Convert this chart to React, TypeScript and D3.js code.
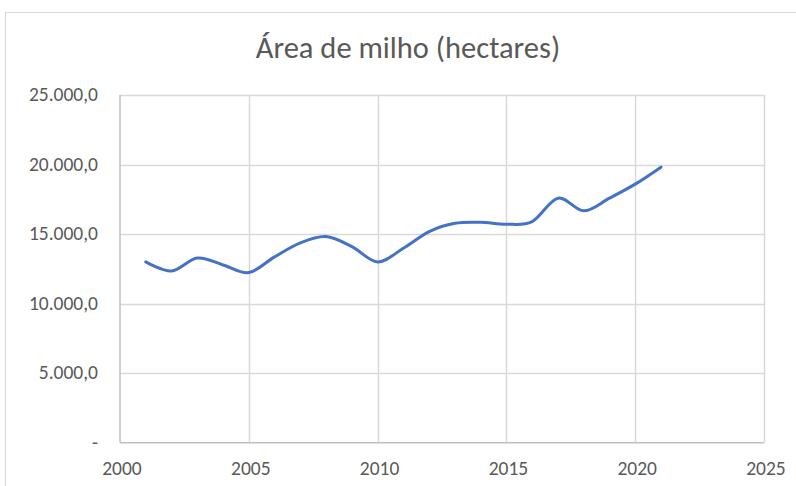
import React, { useEffect, useRef } from "react";
import * as d3 from "d3";

// data
const years = [2001, 2002, 2003, 2004, 2005, 2006, 2007, 2008, 2009, 2010, 2011, 2012, 2013, 2014, 2015, 2016, 2017, 2018, 2019, 2020, 2021];
const area = [13000, 12350, 13280, 12780, 12230, 13360, 14370, 14820, 14100, 13000, 13980, 15180, 15780, 15850, 15710, 15900, 17580, 16670, 17580, 18590, 19810];
const xTicks = [2000, 2005, 2010, 2015, 2020, 2025];
const yTicks = [0, 5000, 10000, 15000, 20000, 25000];
const title = "Área de milho (hectares)";

const fmt = (v: number) =>
  v === 0
    ? "-"
    : d3.format(",.1f")(v).replace(/,/g, "#").replace(".", ",").replace(/#/g, ".");

const App = () => {
  const svgRef = useRef<SVGSVGElement>(null);

  useEffect(() => {
    const svg = d3.select(svgRef.current);
    svg.selectAll("*").remove();

    const w = 796;
    const h = 486;
    const font = "Carlito, Calibri, 'Liberation Sans', sans-serif";

    svg.attr("width", w).attr("height", h).style("background", "#fff");

    // chart border
    svg
      .append("rect")
      .attr("x", 5.5)
      .attr("y", 12.5)
      .attr("width", 820)
      .attr("height", 500)
      .attr("fill", "none")
      .attr("stroke", "#d9d9d9");

    const x = d3.scaleLinear().domain([2000, 2025]).range([120, 764]);
    const y = d3.scaleLinear().domain([0, 25000]).range([442.7, 95]);

    // gridlines
    svg
      .append("g")
      .selectAll("line")
      .data(yTicks.filter((t) => t > 0))
      .join("line")
      .attr("x1", x(2000))
      .attr("x2", x(2025))
      .attr("y1", (d) => Math.round(y(d)) + 0.5)
      .attr("y2", (d) => Math.round(y(d)) + 0.5)
      .attr("stroke", "#d9d9d9")
      .attr("stroke-width", 1.5);

    svg
      .append("g")
      .selectAll("line")
      .data(xTicks.filter((t) => t > 2000))
      .join("line")
      .attr("x1", (d) => Math.round(x(d)) + 0.5)
      .attr("x2", (d) => Math.round(x(d)) + 0.5)
      .attr("y1", y(25000))
      .attr("y2", y(0))
      .attr("stroke", "#d9d9d9")
      .attr("stroke-width", 1.5);

    // axis lines
    svg
      .append("line")
      .attr("x1", x(2000))
      .attr("x2", x(2025))
      .attr("y1", y(0))
      .attr("y2", y(0))
      .attr("stroke", "#bfbfbf")
      .attr("stroke-width", 1.5);
    svg
      .append("line")
      .attr("x1", x(2000))
      .attr("x2", x(2000))
      .attr("y1", y(0))
      .attr("y2", y(25000))
      .attr("stroke", "#bfbfbf")
      .attr("stroke-width", 1.5);

    // tick labels
    svg
      .append("g")
      .selectAll("text")
      .data(yTicks)
      .join("text")
      .attr("x", 98)
      .attr("y", (d) => y(d) + 6)
      .attr("text-anchor", "end")
      .attr("font-family", font)
      .attr("font-size", 19.5)
      .attr("fill", "#595959")
      .text((d) => fmt(d));

    svg
      .append("g")
      .selectAll("text")
      .data(xTicks)
      .join("text")
      .attr("x", (d) => x(d) + 2)
      .attr("y", 475)
      .attr("text-anchor", "middle")
      .attr("font-family", font)
      .attr("font-size", 19.5)
      .attr("fill", "#595959")
      .text((d) => d);

    // title
    svg
      .append("text")
      .attr("x", 408)
      .attr("y", 58)
      .attr("text-anchor", "middle")
      .attr("font-family", font)
      .attr("font-size", 30.5)
      .attr("fill", "#595959")
      .text(title);

    // smoothed line
    const line = d3
      .line<number>()
      .x((_, i) => x(years[i]))
      .y((d) => y(d))
      .curve(d3.curveCatmullRom.alpha(0));

    svg
      .append("path")
      .datum(area)
      .attr("d", line)
      .attr("fill", "none")
      .attr("stroke", "#4472c4")
      .attr("stroke-width", 3)
      .attr("stroke-linecap", "round");
  }, []);

  return <svg ref={svgRef} style={{ position: "absolute", left: 0, top: 0, display: "block" }}></svg>;
};

export default App;
